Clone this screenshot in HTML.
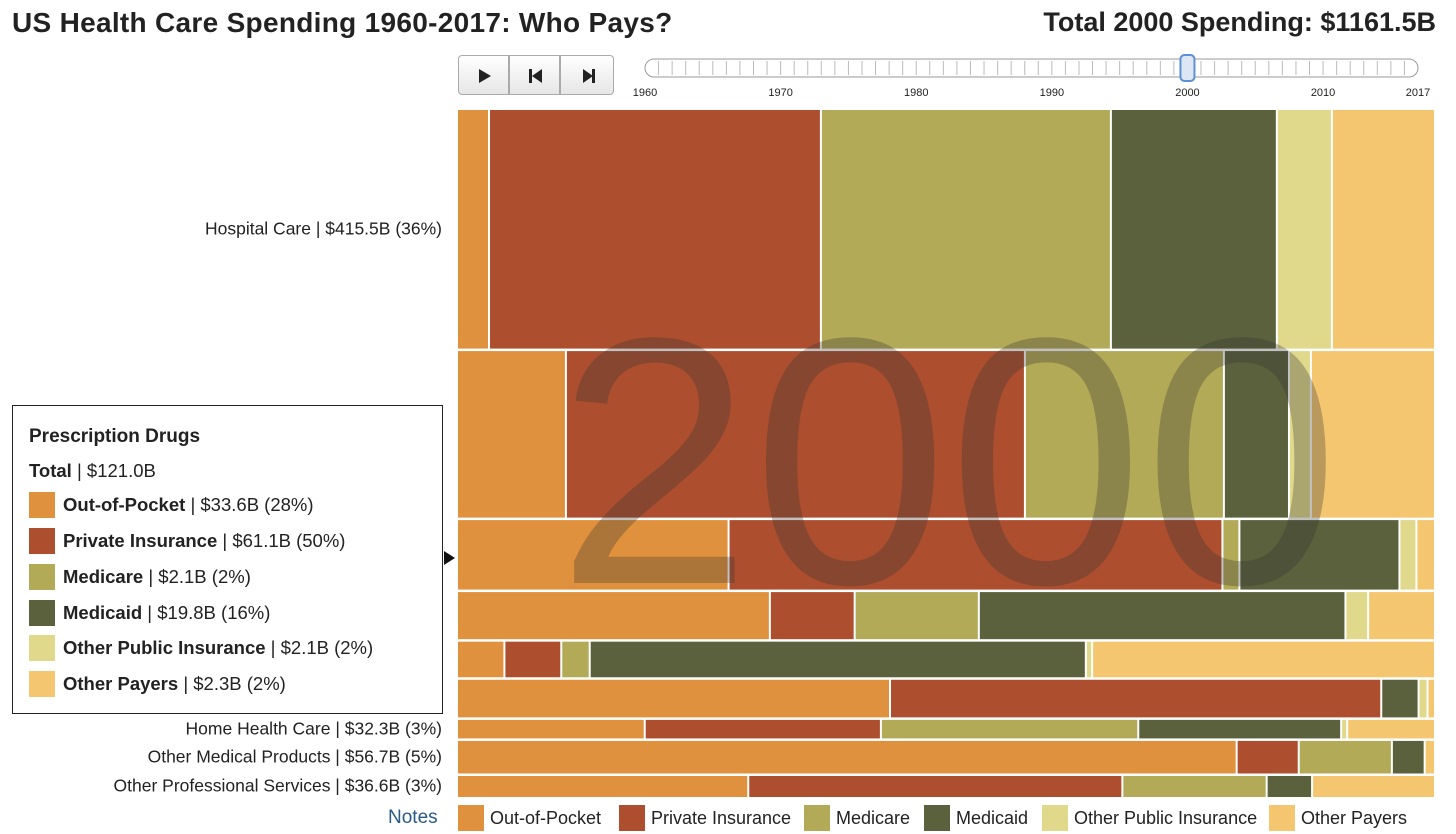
<!DOCTYPE html>
<html><head><meta charset="utf-8">
<style>
body{margin:0;width:1456px;height:834px;background:#fff;font-family:"Liberation Sans",Arial,sans-serif;position:relative;overflow:hidden;color:#222}
.abs{position:absolute}
#title{left:12px;top:7px;font-size:28px;font-weight:bold;color:#222;letter-spacing:0.3px}
#total{right:20px;top:7px;font-size:27px;font-weight:bold;color:#222}
.btn{position:absolute;top:55px;width:51px;height:40px;border:1px solid #aaa;border-radius:4px;background:linear-gradient(#fff,#e6e6e6);box-sizing:border-box}
.rowlabel{position:absolute;right:1014px;font-size:17.5px;color:#222;white-space:nowrap;transform:translateY(-50%)}
#tip{left:12px;top:405px;width:431px;height:309px;border:1px solid #222;background:#fff;box-sizing:border-box}
.trow{position:absolute;left:16px;font-size:18.5px;display:flex;align-items:center;gap:8px}
.sw{width:26px;height:26px;display:inline-block}
.leg{position:absolute;top:805px;display:flex;align-items:center;gap:6px;font-size:18px}
</style></head><body>
<div class="abs" id="title">US Health Care Spending 1960-2017: Who Pays?</div>
<div class="abs" id="total">Total 2000 Spending: $1161.5B</div>

<div class="btn" style="left:458px;border-radius:4px 0 0 4px"><svg width="51" height="40"><polygon points="20,13 32,20 20,27" fill="#222"/></svg></div>
<div class="btn" style="left:509px;border-radius:0"><svg width="51" height="40"><rect x="19" y="13" width="3" height="14" fill="#222"/><polygon points="32,13 22,20 32,27" fill="#222"/></svg></div>
<div class="btn" style="left:560px;border-radius:0 4px 4px 0;width:54px"><svg width="54" height="40"><polygon points="22,13 32,20 22,27" fill="#222"/><rect x="31" y="13" width="3" height="14" fill="#222"/></svg></div>

<svg class="abs" style="left:630px;top:50px" width="810" height="52" id="slider"></svg>

<svg class="abs" style="left:0;top:0" width="1456" height="834" id="chart"></svg>

<div class="abs" id="tip">
 <div class="abs" style="left:16px;top:20px;font-size:19px;font-weight:bold">Prescription Drugs</div>
 <div class="abs" style="left:16px;top:54px;font-size:18.5px"><b>Total</b> | $121.0B</div>
 <div class="trow" style="top:86px"><span class="sw" style="background:#e0913d"></span><span><b>Out-of-Pocket</b> | $33.6B (28%)</span></div>
 <div class="trow" style="top:122px"><span class="sw" style="background:#ad4f2f"></span><span><b>Private Insurance</b> | $61.1B (50%)</span></div>
 <div class="trow" style="top:158px"><span class="sw" style="background:#b2aa57"></span><span><b>Medicare</b> | $2.1B (2%)</span></div>
 <div class="trow" style="top:194px"><span class="sw" style="background:#5a613c"></span><span><b>Medicaid</b> | $19.8B (16%)</span></div>
 <div class="trow" style="top:229px"><span class="sw" style="background:#e0d88a"></span><span><b>Other Public Insurance</b> | $2.1B (2%)</span></div>
 <div class="trow" style="top:265px"><span class="sw" style="background:#f5c670"></span><span><b>Other Payers</b> | $2.3B (2%)</span></div>
</div>
<svg class="abs" style="left:444px;top:551px" width="12" height="14"><polygon points="0,0 11,7 0,14" fill="#111"/></svg>

<div class="abs" style="left:388px;top:807px;font-size:19px;color:#2a5a8a">Notes</div>
<div id="legend"></div>

<script>
const payers=["Out-of-Pocket","Private Insurance","Medicare","Medicaid","Other Public Insurance","Other Payers"];
const colors=["#e0913d","#ad4f2f","#b2aa57","#5a613c","#e0d88a","#f5c670"];
const categories=["Hospital Care","Physician and Clinical Services","Prescription Drugs","Nursing Care Facilities","Other Health Care","Dental Services","Home Health Care","Other Medical Products","Other Professional Services"];
const outOfPocket=[13.6,32.3,33.6,26.2,3.0,29.0,6.2,45.2,10.9];
const privateIns=[141.0,136.1,61.1,7.1,3.6,32.9,7.8,3.6,14.0];
const medicare=[123.2,59.0,2.1,10.4,1.8,0,8.5,5.4,5.4];
const medicaid=[70.5,19.3,19.8,30.7,31.4,2.5,6.7,1.9,1.7];
const otherPublic=[23.4,6.5,2.1,1.9,0.4,0.6,0.2,0,0];
const otherPayers=[43.8,36.8,2.3,5.6,21.7,0.5,2.9,0.6,4.6];
const totals=[415.5,290.0,121.0,82.0,62.0,65.5,32.3,56.7,36.6];
const years=[1960,1970,1980,1990,2000,2010,2017];
const currentYear=2000;

const NS="http://www.w3.org/2000/svg";
const svg=document.getElementById('chart');
const X0=458,X1=1436,Y0=110,Y1=797,GAP=2.5;
const grand=totals.reduce((a,b)=>a+b,0);
const yScale=(Y1-Y0-GAP*(totals.length-1))/grand;
const series=[outOfPocket,privateIns,medicare,medicaid,otherPublic,otherPayers];
let y=Y0;
categories.forEach((cat,i)=>{
  const h=totals[i]*yScale;
  const rowSum=series.reduce((a,s)=>a+s[i],0);
  let x=X0;
  series.forEach((s,j)=>{
    const w=s[i]/rowSum*(X1-X0);
    if(w>0.1){
      const r=document.createElementNS(NS,'rect');
      r.setAttribute('x',x);r.setAttribute('y',y);
      r.setAttribute('width',Math.max(0,w-2));r.setAttribute('height',h);
      r.setAttribute('fill',colors[j]);
      
      
      svg.appendChild(r);
    }
    x+=w;
  });
  const lab=document.createElement('div');
  lab.className='rowlabel';
  lab.style.top=(y+h/2)+'px';
  lab.textContent=cat+' | $'+totals[i].toFixed(1)+'B ('+Math.round(totals[i]/grand*100)+'%)';
  
  
  document.body.insertBefore(lab,document.getElementById('tip'));
  y+=h+GAP;
});
const wm=document.createElementNS(NS,'text');
wm.setAttribute('x',948);wm.setAttribute('y',583);
wm.setAttribute('text-anchor','middle');
wm.setAttribute('font-size','352');
wm.setAttribute('font-family','Liberation Sans, Arial, sans-serif');
wm.setAttribute('fill','rgba(50,50,50,0.3)');
wm.textContent=currentYear;


svg.appendChild(wm);

// slider
const sl=document.getElementById('slider');
const sx=v=>15+(v-1960)/(2017-1960)*773;
let s='<rect x="15" y="9" width="773" height="18" rx="9" fill="#fff" stroke="#999"/>';
for(let yr=1961;yr<2017;yr++){s+='<line x1="'+sx(yr)+'" x2="'+sx(yr)+'" y1="11" y2="25" stroke="#bbb"/>';}
years.forEach(yr=>{s+='<text x="'+sx(yr)+'" y="46" font-size="11" text-anchor="middle" font-family="Liberation Sans,Arial" fill="#222">'+yr+'</text>';});
s+='<rect x="'+(sx(currentYear)-7)+'" y="5" width="14" height="26" rx="4" fill="#dde6f3" stroke="#5b8fd6" stroke-width="2"/>';
sl.innerHTML=s;

// legend
const lx=[458,619,804,924,1042,1269];
const lg=document.getElementById('legend');
payers.forEach((p,j)=>{
  const d=document.createElement('div');
  d.className='leg';d.style.left=lx[j]+'px';
  d.innerHTML='<span class="sw" style="background:'+colors[j]+'"></span><span>'+p+'</span>';
  
  
  lg.appendChild(d);
});
</script>
</body></html>
